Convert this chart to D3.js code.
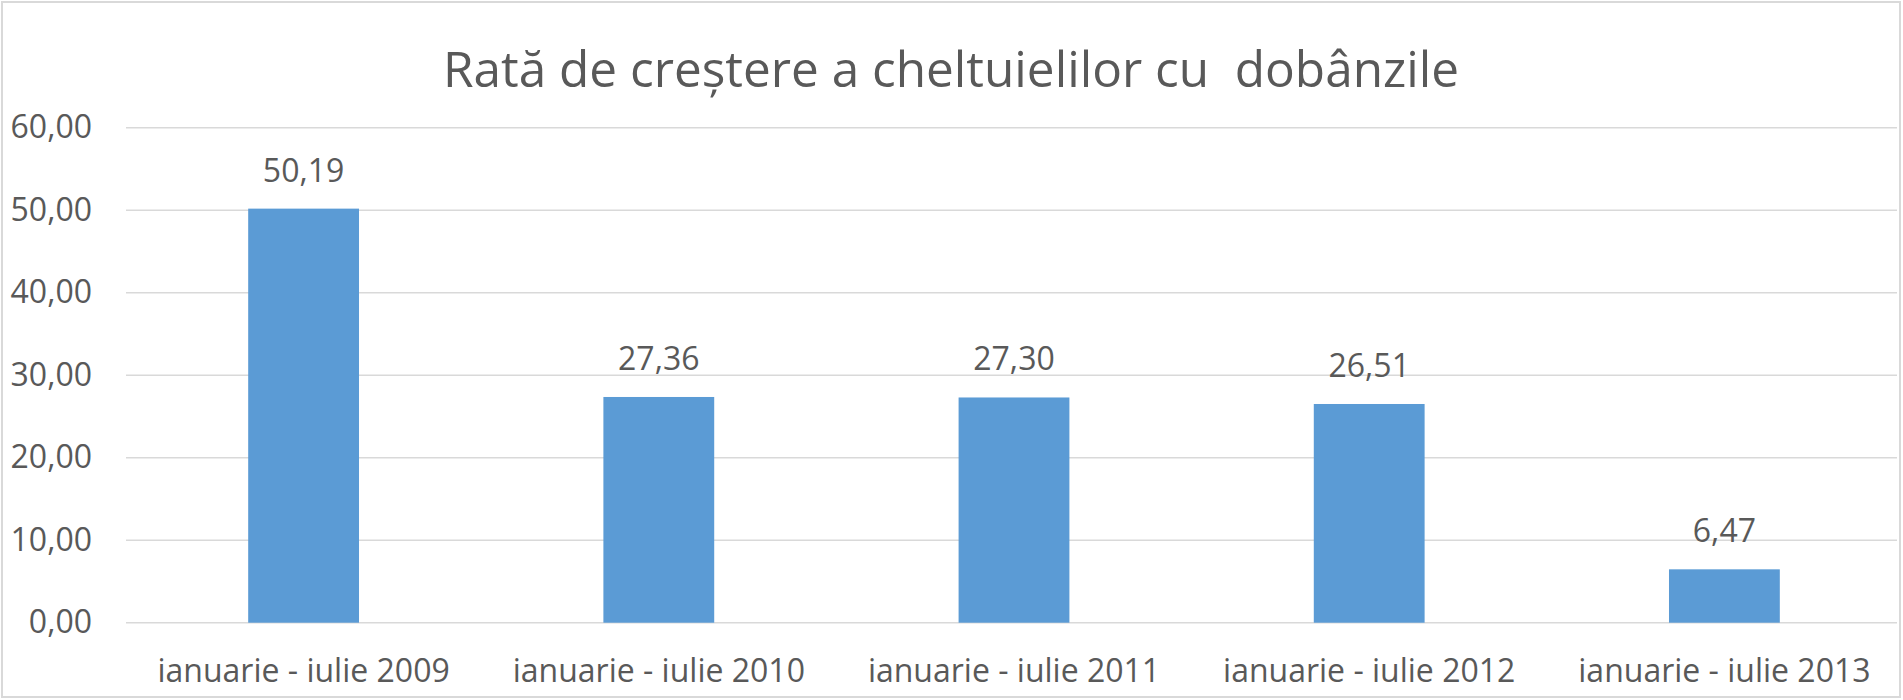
<!DOCTYPE html>
<html><head><meta charset="utf-8">
<script src="https://cdn.jsdelivr.net/npm/d3@7"></script>
<style>
html,body{margin:0;padding:0;background:#fff;}
svg{display:block;}
text{font-family:"Open Sans",Lato,sans-serif;fill:#595959;}
</style></head>
<body>
<svg id="chart" width="1903" height="700"></svg>
<script>
const title = "Rată de creștere a cheltuielilor cu  dobânzile";
const categories = ["ianuarie - iulie 2009","ianuarie - iulie 2010","ianuarie - iulie 2011","ianuarie - iulie 2012","ianuarie - iulie 2013"];
const values = [50.19, 27.36, 27.30, 26.51, 6.47];
const yTicks = [0, 10, 20, 30, 40, 50, 60];

const fmt = v => d3.format(".2f")(v).replace(".", ",");
const FONT = '"Open Sans", Lato, sans-serif';

const svg = d3.select("#chart");

svg.append("rect").attr("x", 2).attr("y", 2).attr("width", 1898).attr("height", 695)
  .attr("fill", "#fff").attr("stroke", "#d9d9d9").attr("stroke-width", 2);

const x = d3.scaleBand().domain(categories).range([126, 1902]).paddingInner(0.688).paddingOuter(0.344);
const y = d3.scaleLinear().domain([0, 60]).range([622.7, 127.7]);
const gridRight = 1897;

// gridlines
svg.append("g").selectAll("line").data(yTicks).join("line")
  .attr("x1", 126).attr("x2", gridRight)
  .attr("y1", d => y(d)).attr("y2", d => y(d))
  .attr("stroke", "#d9d9d9").attr("stroke-width", 1.5);

// y axis labels
const yAxis = d3.axisLeft(y).tickValues(yTicks).tickFormat(fmt).tickSize(0).tickPadding(0);
const gy = svg.append("g").attr("transform", "translate(92,0)").call(yAxis);
gy.select(".domain").remove();
gy.selectAll("text").attr("font-size", 32).attr("fill", "#595959").style("font-family", FONT);

// bars
svg.append("g").selectAll("rect").data(values).join("rect")
  .attr("x", (d, i) => x(categories[i]))
  .attr("width", x.bandwidth())
  .attr("y", d => y(d))
  .attr("height", d => y(0) - y(d))
  .attr("fill", "#5b9bd5");

// data labels
svg.append("g").selectAll("text").data(values).join("text")
  .attr("x", (d, i) => x(categories[i]) + x.bandwidth() / 2)
  .attr("y", d => y(d) - 27)
  .attr("text-anchor", "middle")
  .attr("font-size", 32)
  .attr("fill", "#404040")
  .text(d => fmt(d));

// x axis labels
const xAxis = d3.axisBottom(x).tickSize(0).tickPadding(0);
const gx = svg.append("g").attr("transform", "translate(0,622.7)").call(xAxis);
gx.select(".domain").remove();
gx.selectAll("text").attr("font-size", 32).attr("fill", "#595959").style("font-family", FONT)
  .attr("dy", null).attr("y", 59);

// title
svg.append("text").attr("x", 951).attr("y", 87).attr("text-anchor", "middle")
  .attr("font-size", 49.5).style("white-space", "pre").attr("fill", "#595959")
  .text(title);
</script>
</body></html>
